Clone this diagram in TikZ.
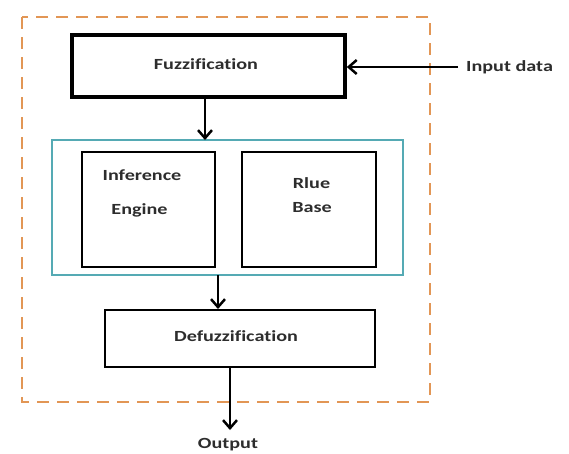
\documentclass[tikz,border=0pt]{standalone}
\usepackage{fontspec}
\setmainfont{Carlito}[Ligatures=NoCommon]
\usetikzlibrary{arrows.meta}
\definecolor{dashorange}{RGB}{226,150,85}
\definecolor{tealline}{RGB}{85,170,180}
\definecolor{txtgray}{RGB}{45,45,45}
\newcommand{\wtxt}[1]{\scalebox{1.3}[1]{#1}}
\tikzset{
  blk/.style={draw=black, line width=2.5pt, inner sep=0pt},
  lbl/.style={font=\bfseries\fontsize{15.5}{17}\selectfont, text=txtgray, inner sep=0pt},
  arr/.style={line width=2.8pt, -{Straight Barb[length=8pt,width=14pt,line width=2.5pt]}},
}
\begin{document}
\begin{tikzpicture}[x=1pt,y=-1pt]
\useasboundingbox (0,0) rectangle (569,453);
% outer dashed
\draw[dashorange, line width=2.3pt, dash pattern=on 12pt off 8pt] (22,17) rectangle (430,402);
% fuzzification
\node[blk, line width=3.6pt, minimum width=273pt, minimum height=62pt] (fuz) at (208.5,66) {};
\node[lbl] (fuzt) at (206,64) {\wtxt{Fuzzification}};
% teal
\node[draw=tealline, line width=2.3pt, minimum width=351pt, minimum height=135pt, inner sep=0pt] (mid) at (227.5,207.5) {};
\node[blk, minimum width=133pt, minimum height=115pt] (inf) at (148.5,209.5) {};
\node[lbl] (inft) at (142,175) {\wtxt{Inference}};
\node[lbl] (engt) at (139.5,210) {\wtxt{Engine}};
\node[blk, minimum width=134pt, minimum height=115pt] (rule) at (309,209.5) {};
\node[lbl] (rluet) at (311.5,183) {\wtxt{Rlue}};
\node[lbl] (baset) at (312,208) {\wtxt{Base}};
% defuzz
\node[blk, minimum width=270pt, minimum height=57pt] (def) at (240,338.5) {};
\node[lbl] (deft) at (236,336) {\wtxt{Defuzzification}};
% texts
\node[lbl, anchor=west] (inp) at (466,67) {\wtxt{Input data}};
\node[lbl] (out) at (228,445) {\wtxt{Output}};
\coordinate (inpE) at (458,67);
\coordinate (outE) at (230,430);
% arrows
\draw[arr] (inpE) -- (fuz.east |- inpE);
\draw[arr] (205,97) -- (205,140);
\draw[arr] (218,275) -- (218,309);
\draw[arr] (230,367) -- (outE);
\end{tikzpicture}
\end{document}
